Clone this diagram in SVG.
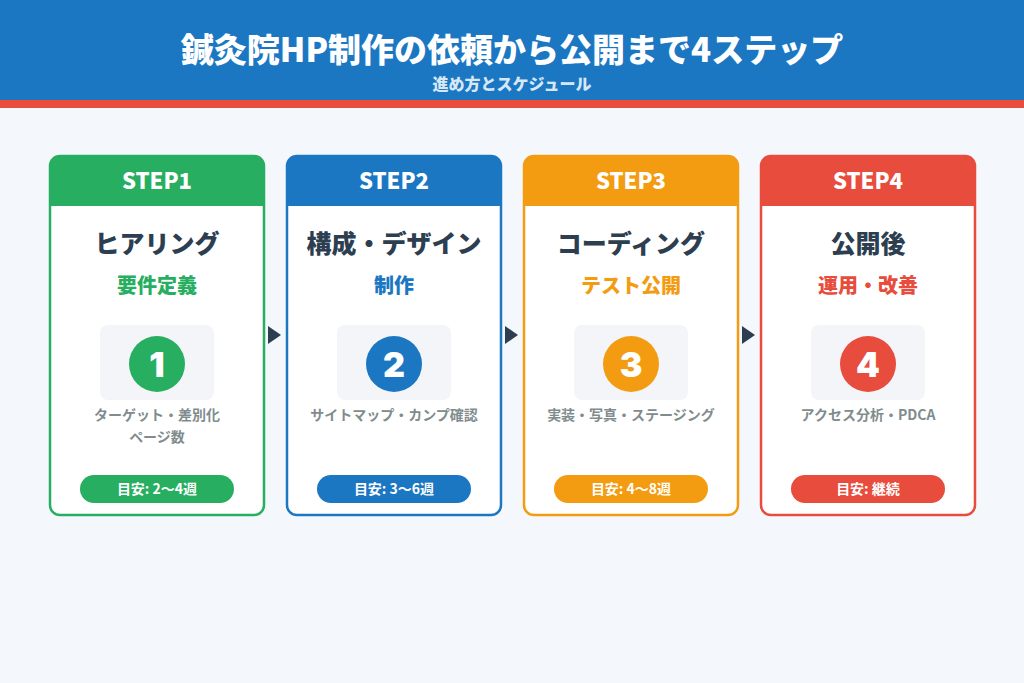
<svg xmlns="http://www.w3.org/2000/svg" width="1024" height="683" viewBox="0 0 1024 683">
<style>
text{font-family:"Noto Sans CJK JP","Noto Sans",sans-serif;font-weight:900;text-anchor:middle}
.hd{fill:#fff;font-size:22px}
.tt{fill:#2c3e50;font-size:25px}
.st{font-size:20px}
.ds{fill:#7f8c8d;font-size:14px;font-weight:700}
.pl{fill:#fff;font-size:14px;font-weight:700}
.num{fill:#fff;font-size:34px;font-family:"Inter","Noto Sans",sans-serif;font-weight:900}
.nb{fill:#f3f5f8}
</style>
<rect width="1024" height="683" fill="#f4f8fc"/>
<rect width="1024" height="100" fill="#1c77c3"/>
<rect y="100" width="1024" height="8" fill="#e74c3c"/>
<text x="512" y="62" fill="#fff" font-size="33">鍼灸院HP制作の依頼から公開まで4ステップ</text>
<text x="512" y="90" fill="#d6e8f7" font-size="16">進め方とスケジュール</text>
<defs>
<clipPath id="c1"><rect x="50" y="156" width="214" height="359" rx="10"/></clipPath>
<clipPath id="c2"><rect x="287" y="156" width="214" height="359" rx="10"/></clipPath>
<clipPath id="c3"><rect x="524" y="156" width="214" height="359" rx="10"/></clipPath>
<clipPath id="c4"><rect x="761" y="156" width="214" height="359" rx="10"/></clipPath>
</defs>
<g id="step1">
<rect x="50" y="156" width="214" height="359" rx="10" fill="#fff"/>
<rect x="50" y="156" width="214" height="50" fill="#27ae60" clip-path="url(#c1)"/>
<rect x="50" y="156" width="214" height="359" rx="10" fill="none" stroke="#27ae60" stroke-width="2.5"/>
<text class="hd" x="157" y="189">STEP1</text>
<text class="tt" x="157" y="253">ヒアリング</text>
<text class="st" x="157" y="293" fill="#27ae60">要件定義</text>
<rect class="nb" x="100" y="325" width="114" height="75" rx="8"/>
<circle cx="157" cy="364" r="28" fill="#27ae60"/>
<text class="num" x="157" y="377">1</text>
<text class="ds" x="157" y="420">ターゲット・差別化</text>
<text class="ds" x="157" y="442">ページ数</text>
<rect x="80" y="475" width="154" height="28" rx="14" fill="#27ae60"/>
<text class="pl" x="157" y="494">目安: 2〜4週</text>
</g>
<g id="step2">
<rect x="287" y="156" width="214" height="359" rx="10" fill="#fff"/>
<rect x="287" y="156" width="214" height="50" fill="#1c77c3" clip-path="url(#c2)"/>
<rect x="287" y="156" width="214" height="359" rx="10" fill="none" stroke="#1c77c3" stroke-width="2.5"/>
<text class="hd" x="394" y="189">STEP2</text>
<text class="tt" x="394" y="253">構成・デザイン</text>
<text class="st" x="394" y="293" fill="#1c77c3">制作</text>
<rect class="nb" x="337" y="325" width="114" height="75" rx="8"/>
<circle cx="394" cy="364" r="28" fill="#1c77c3"/>
<text class="num" x="394" y="377">2</text>
<text class="ds" x="394" y="420">サイトマップ・カンプ確認</text>
<rect x="317" y="475" width="154" height="28" rx="14" fill="#1c77c3"/>
<text class="pl" x="394" y="494">目安: 3〜6週</text>
</g>
<g id="step3">
<rect x="524" y="156" width="214" height="359" rx="10" fill="#fff"/>
<rect x="524" y="156" width="214" height="50" fill="#f39c12" clip-path="url(#c3)"/>
<rect x="524" y="156" width="214" height="359" rx="10" fill="none" stroke="#f39c12" stroke-width="2.5"/>
<text class="hd" x="631" y="189">STEP3</text>
<text class="tt" x="631" y="253">コーディング</text>
<text class="st" x="631" y="293" fill="#f39c12">テスト公開</text>
<rect class="nb" x="574" y="325" width="114" height="75" rx="8"/>
<circle cx="631" cy="364" r="28" fill="#f39c12"/>
<text class="num" x="631" y="377">3</text>
<text class="ds" x="631" y="420">実装・写真・ステージング</text>
<rect x="554" y="475" width="154" height="28" rx="14" fill="#f39c12"/>
<text class="pl" x="631" y="494">目安: 4〜8週</text>
</g>
<g id="step4">
<rect x="761" y="156" width="214" height="359" rx="10" fill="#fff"/>
<rect x="761" y="156" width="214" height="50" fill="#e74c3c" clip-path="url(#c4)"/>
<rect x="761" y="156" width="214" height="359" rx="10" fill="none" stroke="#e74c3c" stroke-width="2.5"/>
<text class="hd" x="868" y="189">STEP4</text>
<text class="tt" x="868" y="253">公開後</text>
<text class="st" x="868" y="293" fill="#e74c3c">運用・改善</text>
<rect class="nb" x="811" y="325" width="114" height="75" rx="8"/>
<circle cx="868" cy="364" r="28" fill="#e74c3c"/>
<text class="num" x="868" y="377">4</text>
<text class="ds" x="868" y="420">アクセス分析・PDCA</text>
<rect x="791" y="475" width="154" height="28" rx="14" fill="#e74c3c"/>
<text class="pl" x="868" y="494">目安: 継続</text>
</g>
<g id="connectors" fill="#2c3e50">
<polygon points="268,326 268,344 281,335"/>
<polygon points="505,326 505,344 518,335"/>
<polygon points="742,326 742,344 755,335"/>
</g>
</svg>
